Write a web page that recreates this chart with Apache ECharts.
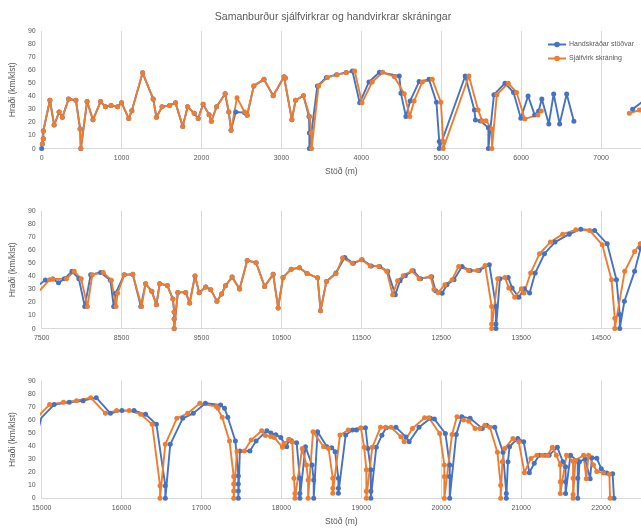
<!DOCTYPE html>
<html>
<head>
<meta charset="utf-8">
<script src="https://cdn.jsdelivr.net/npm/echarts@6/dist/echarts.min.js"></script>
<style>html,body{margin:0;padding:0;background:#fff;}#c{width:641px;height:530px;}</style>
</head>
<body>
<div id="c"></div>
<script>
const titleText = 'Samanburður sjálfvirkrar og handvirkrar skráningar';
const seriesNames = ['Handskráðar stöðvar', 'Sjálfvirk skráning'];
const yName = 'Hraði (km/klst)';
const xName = 'Stöð (m)';
const panelRanges = [[0, 7500], [7500, 15000], [15000, 22500]];

// Handskráðar stöðvar (blue) [stöð, hraði]
const hand1 = [[0,0],[8,3.5],[20,7.5],[20,13.5],[103,37],[156,18],[218,28],[259,24],[337,38],[428,37],[481,15],[490,0],[568,36],[642,22],[737,36],[798,32],[868,33],[951,32],[1000,35],[1090,23],[1128,29],[1263,58],[1395,38],[1436,24],[1506,32],[1601,33],[1675,35],[1765,17],[1827,32],[1909,27],[1959,23],[2020,34],[2095,26],[2123,21],[2189,32],[2296,42],[2341,28],[2370,14],[2428,28],[2539,27.5],[2572,25.5],[2654,48],[2782,53],[2897,40.5],[3033,55],[3049,54],[3131,22],[3177,37],[3276,40.5],[3345,24.5],[3350,12],[3350,0],[3450,48],[3563,54.5],[3690,56.6],[3810,58.2],[3888,59.4],[3980,35],[4095,51],[4227,58.4],[4475,55.6],[4496,42.3],[4558,24.5],[4611,36.5],[4723,51.3],[4847,53],[4940,35.5],[4975,5.5],[4975,0],[5300,55.6],[5415,29.6],[5428,21.9],[5490,21.2],[5590,16],[5590,0],[5660,41.3],[5798,50],[5905,43],[5996,23.2],[6087,40.3],[6169,25.8],[6219,28.8],[6259,38],[6346,18.9],[6407,41.8],[6482,18.9],[6570,41.8],[6660,21],[6700,'-']];
const hand2 = [[7395,30.1],[7545,37.2],[7640,38],[7710,35],[7784,38.2],[7879,43.8],[7965,38.2],[8039,17],[8113,41.2],[8237,43],[8360,37],[8401,17],[8425,27],[8533,41.2],[8640,41.5],[8740,17],[8800,34.4],[8878,28.5],[8936,18.3],[8977,34.4],[9072,33],[9142,22.6],[9158,12.7],[9158,7.4],[9158,0],[9204,27.7],[9302,27.7],[9352,19.6],[9418,40.2],[9471,27.5],[9553,31.8],[9615,29.8],[9693,21],[9751,26.5],[9800,32.8],[9883,39.4],[9977,30.3],[10072,52.2],[10183,50.4],[10290,32.3],[10397,41.5],[10459,15.8],[10520,39.2],[10623,45.5],[10726,46.6],[10821,42.2],[10953,38.9],[10990,13.7],[11063,36.1],[11182,42.5],[11293,54.5],[11400,50],[11510,52.7],[11625,48],[11730,47.6],[11830,43.8],[11925,26],[11985,36.6],[12050,40.5],[12150,44.3],[12240,38.2],[12380,39.7],[12430,29],[12512,27],[12570,33.6],[12660,37.4],[12760,47.6],[12860,44.5],[12975,44.5],[13102,48.9],[13185,17],[13185,3.6],[13185,0],[13235,38.2],[13338,39.2],[13387,31],[13470,24],[13540,30.5],[13606,27.2],[13676,42.5],[13792,57.3],[13924,66.2],[14102,72.3],[14246,76.1],[14420,75.1],[14577,64.9],[14693,37.4],[14734,10.7],[14734,0],[14792,20.9],[14920,43.8]];
const hand3 = [[14995,61.5],[15156,71.7],[15346,73.5],[15518,74.7],[15683,77],[15860,65],[16004,67.1],[16156,67.1],[16300,64.3],[16436,56.6],[16547,9.7],[16547,0],[16609,41.3],[16765,61.2],[16897,65],[17049,72.7],[17239,71.4],[17288,69],[17329,62],[17424,43.9],[17461,17],[17461,11],[17461,5.5],[17461,0],[17480,36.2],[17605,36.2],[17683,43.8],[17818,51.7],[17868,49.9],[17930,48.6],[17992,46.6],[18066,39.5],[18095,45],[18124,44],[18190,42.6],[18231,15.3],[18231,3.6],[18231,0],[18301,39.5],[18383,25.5],[18404,14],[18404,0],[18453,51],[18569,39.5],[18630,38.7],[18672,35.7],[18713,15.3],[18713,7.6],[18713,3.8],[18804,48.4],[18890,52.3],[18939,52.3],[19052,54],[19082,38.2],[19119,21.9],[19119,5.3],[19119,0],[19187,39],[19257,48.2],[19311,54],[19434,54.3],[19558,47],[19599,43.3],[19722,54.3],[19866,61.2],[19915,60.6],[20052,49.6],[20106,25.5],[20106,16.6],[20106,0],[20188,48.9],[20258,62.5],[20361,61.2],[20513,53.5],[20567,56],[20670,54.3],[20773,35.2],[20814,3.6],[20814,0],[20835,28],[20855,39.5],[20958,45.8],[21032,43.3],[21103,19.6],[21164,26.8],[21226,33],[21300,33],[21350,33],[21453,39],[21522,28],[21556,24.2],[21556,12.7],[21556,3.6],[21618,33],[21708,28.4],[21708,15.3],[21708,0],[21730,28],[21800,30],[21864,15],[21885,31],[21947,30.6],[22002,22.7],[22071,19.3],[22145,18.7],[22162,0]];

// Sjálfvirk skráning (orange) [stöð, hraði]
const auto1 = [[8,3.5],[20,7.5],[20,13.5],[103,37],[156,18],[218,28],[259,24],[337,38],[428,37],[481,15],[490,0],[568,36],[642,22],[737,36],[798,32],[868,33],[951,32],[1000,35],[1090,23],[1128,29],[1263,58],[1395,38],[1436,24],[1506,32],[1601,33],[1675,35],[1765,17],[1827,32],[1909,27],[1959,23],[2020,34],[2095,26],[2123,21],[2189,32],[2296,42],[2341,28],[2370,14],[2444,39],[2539,28],[2572,25.5],[2654,48],[2782,53],[2897,40.5],[3033,55],[3049,54],[3131,22],[3177,37],[3276,40.5],[3355,24.5],[3372,12],[3378,0],[3465,48],[3576,54.5],[3698,56.6],[3814,58.2],[3917,59.4],[4008,35],[4136,51],[4268,58.4],[4413,55],[4537,42],[4607,24.5],[4661,36.5],[4764,51],[4888,53],[4996,35.5],[5025,5.5],[5025,0],[5346,55.6],[5462,29.6],[5511,21.4],[5560,21.4],[5635,15],[5635,0],[5696,41.3],[5840,50],[5943,43],[6046,22.7],[6210,25.8],[6252,28.8],[6300,'-']];
const auto2 = [[7354,27],[7480,29.5],[7599,37.4],[7640,38],[7809,38.2],[7907,43.8],[7994,38.2],[8072,17],[8134,41.2],[8270,43],[8372,37],[8430,17],[8450,27],[8533,41.2],[8640,41.5],[8751,17],[8800,34.4],[8878,28.5],[8936,18.3],[8977,34.4],[9072,33],[9142,22.6],[9158,12.7],[9158,7.4],[9158,0],[9204,27.7],[9302,27.7],[9352,19.6],[9418,40.2],[9471,27.5],[9553,31.8],[9615,29.8],[9693,21],[9751,26.5],[9800,32.8],[9883,39.4],[9977,30.3],[10072,52.2],[10183,50.4],[10290,32.3],[10397,41.5],[10459,15.8],[10520,39.2],[10623,45.5],[10726,46.6],[10821,42.2],[10953,38.9],[10990,13.7],[11063,36.1],[11182,42],[11265,54],[11388,50],[11500,52.7],[11612,48],[11719,47.6],[11818,43.8],[11892,26],[11954,36.6],[12025,40.5],[12132,44.3],[12223,38.2],[12367,39.7],[12409,30],[12462,27.5],[12545,33.6],[12636,37.4],[12718,47.6],[12842,44.5],[12954,44.5],[13049,48.3],[13131,17],[13131,3.6],[13131,0],[13206,38.2],[13297,39.2],[13346,31],[13420,24],[13503,30.5],[13536,27.2],[13619,42.5],[13730,57.3],[13866,66.2],[14019,72.3],[14184,75.6],[14358,75.1],[14515,64.1],[14631,37.4],[14672,8],[14672,0],[14796,43.8],[14920,59]];
const auto3 = [[14990,65],[15099,71.7],[15272,73.5],[15436,74.7],[15613,77],[15798,65],[15938,67.1],[16095,67.1],[16239,64.3],[16383,56.6],[16481,9.7],[16481,0],[16547,41.3],[16691,61.2],[16827,65],[16979,72.7],[17185,70.2],[17206,69],[17259,62],[17350,43.9],[17403,16.6],[17403,11],[17403,5.5],[17403,0],[17444,36.2],[17535,36.2],[17621,44.6],[17753,51.7],[17800,48],[17868,47.3],[17910,46.6],[18013,39],[18034,42],[18095,45],[18136,43],[18157,15.3],[18169,3.6],[18169,0],[18260,38.2],[18313,25.5],[18334,14],[18334,0],[18396,51],[18528,39.5],[18590,38.2],[18643,15.3],[18643,7.6],[18643,3.8],[18733,48.4],[18837,52.3],[18994,54],[19036,39],[19063,21.9],[19063,5.3],[19063,0],[19137,39],[19240,54.3],[19302,54.3],[19372,54.3],[19496,47.1],[19537,43.3],[19640,53.5],[19792,61.7],[19845,61.7],[19981,49.6],[20039,25.5],[20039,16.6],[20039,0],[20135,48.9],[20197,62.5],[20278,60],[20345,59],[20423,53.5],[20485,53.5],[20546,56],[20608,54.3],[20703,35.2],[20744,10],[20744,0],[20765,28],[20794,38.2],[20897,45.8],[20970,43.3],[21041,19.6],[21123,30.5],[21197,33],[21267,33],[21329,33],[21391,39],[21440,33],[21490,25.5],[21490,12.7],[21490,3.6],[21568,33],[21650,28.4],[21650,15.3],[21650,3],[21650,0],[21679,29],[21782,33],[21815,15],[21844,33],[21906,25.5],[21947,20.5],[22030,19.3],[22104,18.4],[22113,0]];

const yTicks = {min: 0, max: 90, interval: 10};
const handAll = hand1.concat(hand2, hand3);
const autoAll = auto1.concat(auto2, auto3);

const BLUE = '#4472C4', ORANGE = '#ED7D31', TXT = '#595959', GRID = '#d9d9d9';
const FONT = 'Liberation Sans';
const gridTops = [31, 211, 380.7];
const gridLefts = [40.3, 40.3, 41.3];

const grids = [], xAxes = [], yAxes = [], series = [];
panelRanges.forEach((r, i) => {
  const pxPerUnit = 80.9 / 1000;
  const width = (r[1] - r[0]) * pxPerUnit;
  grids.push({left: gridLefts[i], top: gridTops[i], width: width, height: 117.6, containLabel: false});
  xAxes.push({
    type: 'value', gridIndex: i, min: r[0], max: r[1], interval: 1000,
    name: i === 1 ? '' : xName, nameLocation: 'middle', nameGap: 19,
    nameTextStyle: {color: TXT, fontSize: 8.5, fontFamily: FONT},
    axisLine: {show: true, onZero: false, lineStyle: {color: GRID, width: 1}},
    axisTick: {show: false},
    axisLabel: {color: TXT, fontSize: 7, fontFamily: FONT, margin: 6, showMaxLabel: false,
      formatter: v => String(v)},
    splitLine: {show: true, lineStyle: {color: GRID, width: 1}}
  });
  yAxes.push({
    type: 'value', gridIndex: i, min: yTicks.min, max: yTicks.max, interval: yTicks.interval,
    name: yName, nameLocation: 'middle', nameGap: 19, nameRotate: 90,
    nameTextStyle: {color: TXT, fontSize: 8.5, fontFamily: FONT},
    axisLine: {show: false}, axisTick: {show: false},
    axisLabel: {color: TXT, fontSize: 7, fontFamily: FONT, margin: 6},
    splitLine: {show: false}
  });
  series.push({
    name: seriesNames[0], type: 'line', xAxisIndex: i, yAxisIndex: i, data: handAll,
    symbol: 'circle', symbolSize: 5, showAllSymbol: true, clip: true,
    lineStyle: {color: BLUE, width: 1.9}, itemStyle: {color: BLUE}, animation: false
  });
  series.push({
    name: seriesNames[1], type: 'line', xAxisIndex: i, yAxisIndex: i, data: autoAll,
    symbol: 'circle', symbolSize: 5, showAllSymbol: true, clip: true,
    lineStyle: {color: ORANGE, width: 1.9}, itemStyle: {color: ORANGE}, animation: false
  });
});

const chart = echarts.init(document.getElementById('c'), null, {renderer: 'canvas'});
chart.setOption({
  backgroundColor: '#fff',
  animation: false,
  title: {text: titleText, left: 328, top: 7, textAlign: 'center',
    textStyle: {color: TXT, fontSize: 10.5, fontWeight: 'normal', fontFamily: FONT}},
  legend: {
    data: seriesNames, orient: 'vertical', left: 542, top: 36, itemGap: 7,
    itemWidth: 18, itemHeight: 7,
    textStyle: {color: TXT, fontSize: 7, fontFamily: FONT, padding: [0,0,0,-2]}
  },
  grid: grids, xAxis: xAxes, yAxis: yAxes, series: series
});
</script>
</body>
</html>
